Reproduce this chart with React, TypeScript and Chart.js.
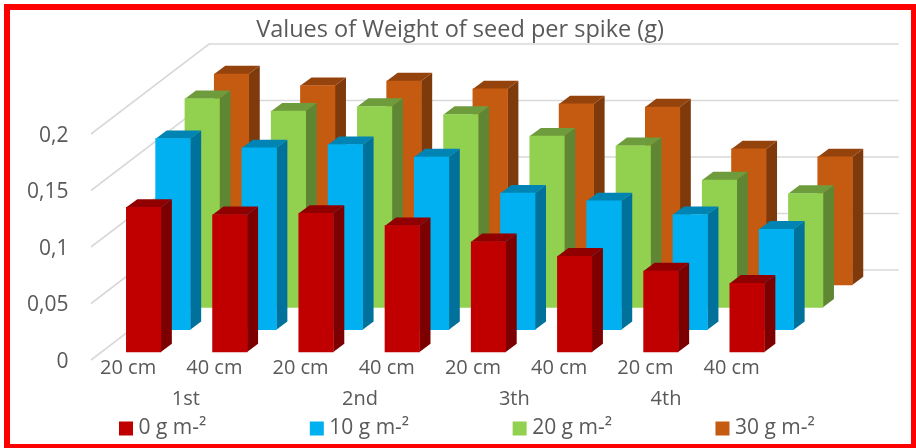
import React, { useEffect, useRef } from "react";
import { Chart, registerables } from "chart.js";

Chart.register(...registerables);

const categories = ["20 cm", "40 cm", "20 cm", "40 cm", "20 cm", "40 cm", "20 cm", "40 cm"];
const groupLabels = ["1st", "2nd", "3th", "4th"];
const groupPositions = [0.6, 2.62, 4.41, 6.17];
const yTickLabels = ["0", "0,05", "0,1", "0,15", "0,2"];
const seriesNames = ["0 g m-²", "10 g m-²", "20 g m-²", "30 g m-²"];
const red = [0.128, 0.1215, 0.1227, 0.1118, 0.0976, 0.0847, 0.0717, 0.0608];
const blue = [0.169, 0.1608, 0.1637, 0.1528, 0.1208, 0.1139, 0.1018, 0.0888];
const green = [0.1845, 0.1736, 0.1777, 0.1706, 0.1515, 0.1429, 0.1126, 0.1007];
const orange = [0.1867, 0.1764, 0.1805, 0.1735, 0.1602, 0.1575, 0.1204, 0.1133];
const frontColors = ["#C00000", "#00B0F0", "#92D050", "#C55A11"];
const sideColors = ["#7C0000", "#00719B", "#5F8633", "#7F3A0B"];
const topColors = ["#900000", "#0084B4", "#6E9C3C", "#94430D"];

const TEXT = "#595959";
const FONT = "'Open Sans', 'Noto Sans', sans-serif";
const WALL_DX = 118;
const WALL_DY = 90;
const STEP_DX = 29.3;
const STEP_DY = 22.35;
const FIRST_DX = 9.5;
const FIRST_DY = 8;
const BAR_DX = 11;
const BAR_DY = 8.2;

const walls = {
  id: "walls",
  beforeDatasetsDraw(chart: any) {
    const { ctx, chartArea, scales } = chart;
    ctx.save();
    ctx.strokeStyle = "#D9D9D9";
    ctx.lineWidth = 1.6;
    scales.y.ticks.forEach((_: any, i: number) => {
      const y = scales.y.getPixelForTick(i);
      ctx.beginPath();
      ctx.moveTo(chartArea.left, y);
      ctx.lineTo(chartArea.left + WALL_DX, y - WALL_DY);
      ctx.lineTo(chartArea.right + WALL_DX, y - WALL_DY);
      ctx.stroke();
    });
    ctx.restore();
  },
};

const depth = {
  id: "depth",
  afterLayout(chart: any) {
    const lg = chart.legend;
    const pad = lg.options.labels.padding;
    lg.left = 124 - pad;
    lg.right = lg.left + 916;
    lg.top = 418 - pad;
    chart.titleBlock.left += 69.7;
    chart.titleBlock.right += 69.7;
  },
  beforeDatasetDraw(chart: any, args: any) {
    const { ctx } = chart;
    const k = args.index;
    ctx.save();
    ctx.translate(FIRST_DX + k * STEP_DX, -(FIRST_DY + k * STEP_DY));
    args.meta.data.forEach((bar: any) => {
      const { x, y, base, width } = bar.getProps(["x", "y", "base", "width"], true);
      const l = x - width / 2;
      const r = x + width / 2;
      ctx.fillStyle = sideColors[k];
      ctx.beginPath();
      ctx.moveTo(r, y);
      ctx.lineTo(r + BAR_DX, y - BAR_DY);
      ctx.lineTo(r + BAR_DX, base - BAR_DY);
      ctx.lineTo(r, base);
      ctx.closePath();
      ctx.fill();
      ctx.fillStyle = topColors[k];
      ctx.beginPath();
      ctx.moveTo(l, y);
      ctx.lineTo(l + BAR_DX, y - BAR_DY);
      ctx.lineTo(r + BAR_DX, y - BAR_DY);
      ctx.lineTo(r, y);
      ctx.closePath();
      ctx.fill();
    });
  },
  afterDatasetDraw(chart: any) {
    chart.ctx.restore();
  },
};

export default function App() {
  const ref = useRef<HTMLCanvasElement>(null);
  useEffect(() => {
    const seriesValues = [red, blue, green, orange];
    const chart = new Chart(ref.current as HTMLCanvasElement, {
      type: "bar",
      data: {
        labels: categories,
        datasets: seriesValues.map((data, i) => ({
          label: seriesNames[i],
          data,
          backgroundColor: frontColors[i],
          barThickness: 34.5,
          grouped: false,
          clip: false,
        })),
      } as any,
      options: {
        responsive: false,
        animation: false,
        layout: { padding: { right: 135.3 } },
        scales: {
          y: {
            min: 0,
            max: 0.2,
            ticks: {
              stepSize: 0.05,
              padding: 14.5,
              labelOffset: 2,
              color: TEXT,
              font: { family: FONT, size: 21 },
              callback: (_: any, i: number) => yTickLabels[i],
            },
            grid: { display: false },
            border: { display: false },
            afterFit: (s: any) => { s.width = 91; },
          },
          x: {
            ticks: {
              color: TEXT,
              font: { family: FONT, size: 20 },
              padding: -12,
              labelOffset: -6,
              maxRotation: 0,
              autoSkip: false,
            },
            grid: { display: false },
            border: { display: false },
            afterFit: (s: any) => { s.height = 30; },
          },
          x2: {
            type: "linear",
            axis: "x",
            position: "bottom",
            offset: false,
            min: -0.5,
            max: 7.5,
            afterBuildTicks: (s: any) => {
              s.ticks = groupPositions.map((value) => ({ value }));
            },
            ticks: {
              color: TEXT,
              font: { family: FONT, size: 20 },
              padding: -11,
              maxRotation: 0,
              autoSkip: false,
              callback: (_: any, i: number) => groupLabels[i],
            },
            grid: { display: false },
            border: { display: false },
            afterFit: (s: any) => { s.height = 28; },
          },
        },
        plugins: {
          tooltip: { enabled: false },
          title: {
            display: true,
            text: "Values of Weight of seed per spike (g)",
            color: TEXT,
            font: { family: FONT, size: 23.5, weight: "normal" },
            padding: { top: 15.9, bottom: 89.9 },
          },
          legend: {
            position: "bottom",
            align: "start",
            maxHeight: 30,
            labels: {
              color: TEXT,
              font: { family: FONT, size: 21 },
              boxWidth: 4,
              boxHeight: 4,
              padding: 108.5,
              generateLabels: () =>
                seriesNames.map((text, i) => ({
                  text,
                  fillStyle: frontColors[i],
                  strokeStyle: frontColors[i],
                  lineWidth: 10,
                  datasetIndex: i,
                  fontColor: TEXT,
                })),
            },
          },
        },
      } as any,
      plugins: [walls, depth],
    });
    return () => chart.destroy();
  }, []);
  return (
    <div style={{ position: "fixed", left: 0, top: 0, width: 916, height: 448, overflow: "hidden", background: "#fff" }}>
      <canvas ref={ref} width={916} height={448} style={{ display: "block" }} />
      <div
        style={{
          position: "absolute",
          left: 4,
          top: 4,
          width: 901,
          height: 434,
          borderStyle: "solid",
          borderColor: "#FF0000",
          borderWidth: "6px 5px 4px 6px",
          pointerEvents: "none",
        }}
      />
    </div>
  );
}
